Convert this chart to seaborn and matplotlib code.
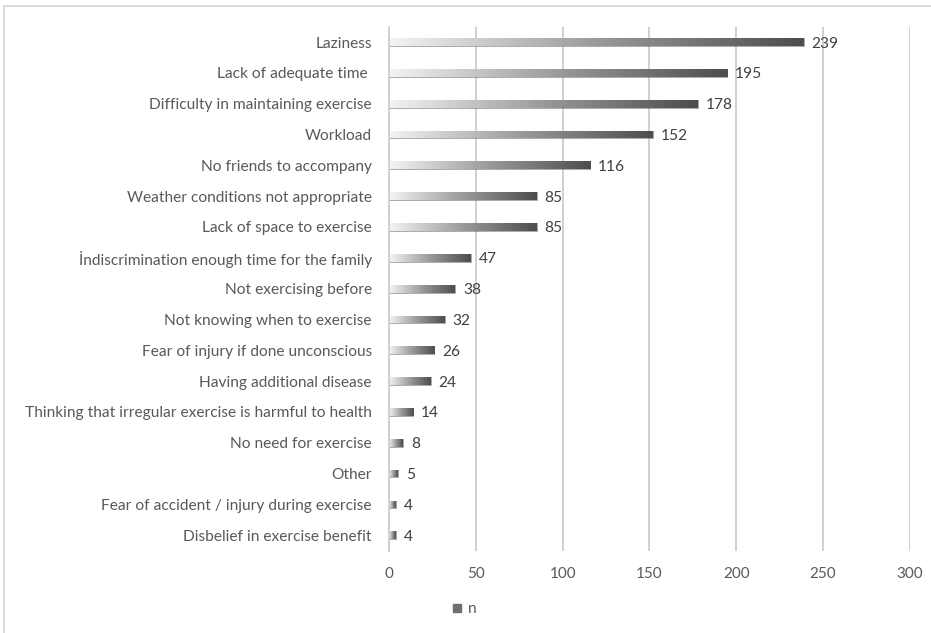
import numpy as np
import pandas as pd
import matplotlib
matplotlib.use("Agg")
import matplotlib.pyplot as plt
from matplotlib.colors import LinearSegmentedColormap
from matplotlib.patches import Rectangle
from matplotlib.lines import Line2D
import seaborn as sns

reasons = [
    "Laziness",
    "Lack of adequate time ",
    "Difficulty in maintaining exercise",
    "Workload",
    "No friends to accompany",
    "Weather conditions not appropriate",
    "Lack of space to exercise",
    "İndiscrimination enough time for the family",
    "Not exercising before",
    "Not knowing when to exercise",
    "Fear of injury if done unconscious",
    "Having additional disease",
    "Thinking that irregular exercise is harmful to health",
    "No need for exercise",
    "Other",
    "Fear of accident / injury during exercise",
    "Disbelief in exercise benefit",
]
counts = [239, 195, 178, 152, 116, 85, 85, 47, 38, 32, 26, 24, 14, 8, 5, 4, 4]
x_ticks = [0, 50, 100, 150, 200, 250, 300]

df = pd.DataFrame({"reason": reasons, "n": counts})

sns.set_theme(style="white")
plt.rcParams["font.family"] = ["Lato", "DejaVu Sans"]

fig = plt.figure(figsize=(9.31, 6.33), dpi=100)
ax = fig.add_axes([0.418, 0.130, 0.559, 0.828])

sns.barplot(data=df, y="reason", x="n", orient="h", ax=ax,
            color="#7f7f7f", width=0.25, saturation=1)

# gradient fill inside every bar (light at the base, dark at the tip)
grad = LinearSegmentedColormap.from_list("bar_grad", ["#f4f4f4", "#9a9a9a", "#4d4d4d"])
ramp = np.linspace(0, 1, 256).reshape(1, -1)
for patch in ax.patches:
    x0, y0 = patch.get_x(), patch.get_y()
    w, h = patch.get_width(), patch.get_height()
    patch.set_facecolor("none")
    patch.set_edgecolor("#6a6a6a")
    patch.set_linewidth(0.4)
    im = ax.imshow(ramp, cmap=grad, aspect="auto", interpolation="bilinear",
                   extent=[x0, x0 + w, y0 + h, y0], zorder=2)
    im.set_clip_path(patch)

for i, v in enumerate(counts):
    ax.text(v + 4.5, i, str(v), va="center_baseline", ha="left",
            fontsize=11.2, color="#404040")

ax.set_xlim(0, 300)
ax.set_ylim(len(reasons) - 0.5, -0.5)
ax.set_xticks(x_ticks)
ax.set_xticklabels([str(t) for t in x_ticks])
ax.tick_params(axis="x", labelsize=11, colors="#595959", length=0, pad=12)
ax.tick_params(axis="y", labelsize=11.2, colors="#595959", length=0, pad=12.5)
for lbl in ax.get_yticklabels():
    lbl.set_verticalalignment("center_baseline")
ax.set_xlabel("")
ax.set_ylabel("")
ax.grid(axis="x", color="#d0d0d0", linewidth=1.4)
ax.set_axisbelow(True)
for s in ["top", "right", "bottom"]:
    ax.spines[s].set_visible(False)
ax.spines["left"].set_color("#d0d0d0")
ax.spines["left"].set_linewidth(1.4)

handle = Line2D([], [], marker="s", linestyle="none", markersize=6,
                markerfacecolor="#6f6f6f", markeredgecolor="#6f6f6f")
fig.legend([handle], ["n"], loc="center", bbox_to_anchor=(0.497, 0.038),
           frameon=False, fontsize=11, labelcolor="#595959",
           handletextpad=0.2, handlelength=1.0)

# thin outer frame around the chart area
fig.add_artist(Rectangle((4 / 931, -0.05), 1.0, 1 - 6 / 633 + 0.05,
                         transform=fig.transFigure, fill=False,
                         edgecolor="#d4d4d4", linewidth=1.2))

fig.savefig("out.png", dpi=100, facecolor="white")
